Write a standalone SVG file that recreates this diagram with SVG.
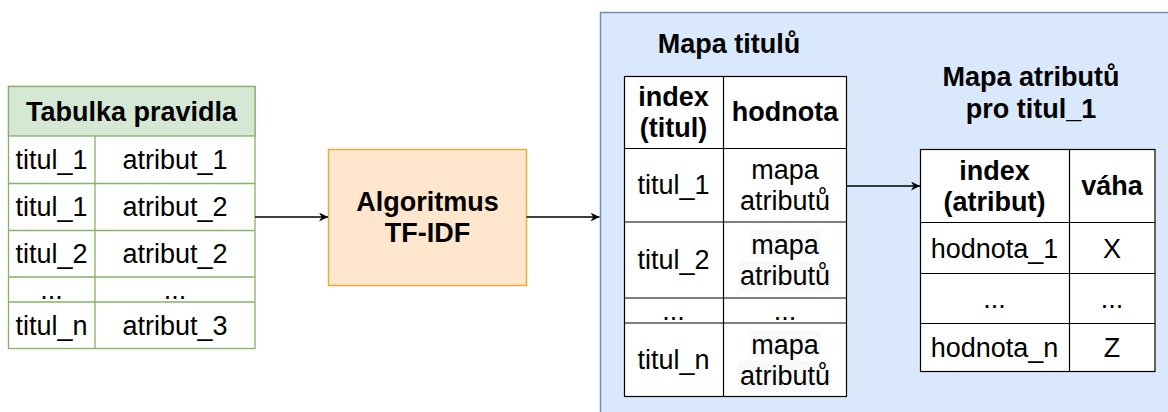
<svg xmlns="http://www.w3.org/2000/svg" width="1168" height="412" viewBox="0 0 1168 412">
<defs>
<style>
text{font-family:"Liberation Sans",Arial,sans-serif;font-size:27px;fill:#000;text-anchor:middle}
.b{font-weight:bold}
.grn{fill:#fff;stroke:#82b366;stroke-width:1.3}
.cell{fill:#fff;stroke:#000;stroke-width:1.2}
.ln{stroke:#000;stroke-width:1.2;fill:none}
.gl{stroke:#82b366;stroke-width:1.3;fill:none}
.hl{fill:#f8f9fa}
.edge{stroke:#000;stroke-width:1.3;fill:none}
</style>
<marker id="ah" viewBox="0 0 10 10" refX="10" refY="5" markerWidth="9" markerHeight="9" markerUnits="userSpaceOnUse" orient="auto">
<path d="M0,0 L10,5 L0,10 L3,5 z" fill="#000"/>
</marker>
</defs>
<rect width="1168" height="412" fill="#fff"/>

<g id="container">
<rect x="600.5" y="12.5" width="620" height="420" fill="#dae8fc" stroke="#6c8ebf" stroke-width="1.5"/>
</g>

<g id="tabulka">
<rect x="8.5" y="86.5" width="246.5" height="262" class="grn"/>
<rect x="8.5" y="86.5" width="246.5" height="49.5" fill="#d5e8d4" stroke="#82b366" stroke-width="1.3"/>
<path class="gl" d="M8.5,183.5H255M8.5,230.5H255M8.5,277H255M8.5,302H255M95,136V348.5"/>
<text x="131.5" y="121" class="b">Tabulka pravidla</text>
<text x="51.5" y="169">titul_1</text><text x="175" y="169">atribut_1</text>
<text x="51.5" y="216">titul_1</text><text x="175" y="216">atribut_2</text>
<text x="51.5" y="263">titul_2</text><text x="175" y="263">atribut_2</text>
<text x="51.5" y="299">...</text><text x="175" y="299">...</text>
<text x="51.5" y="335">titul_n</text><text x="175" y="335">atribut_3</text>
</g>

<g id="algoritmus">
<rect x="328.5" y="149.5" width="198" height="136" fill="#ffe6cc" stroke="#e0b040" stroke-width="1.5"/>
<text x="427.5" y="211" class="b">Algoritmus</text>
<text x="427.5" y="242" class="b">TF-IDF</text>
</g>

<g id="mapa-titulu">
<text x="729" y="53" class="b">Mapa titulů</text>
<rect x="624.5" y="76.5" width="222" height="320" class="cell"/>
<path class="ln" d="M624.5,148.5H846.5M624.5,222H846.5M624.5,298H846.5M624.5,323H846.5M723.5,76.5V396.5"/>
<text x="673.5" y="105.5" class="b">index</text>
<text x="673.5" y="136.5" class="b">(titul)</text>
<text x="785" y="121" class="b">hodnota</text>
<text x="673.5" y="194">titul_1</text>
<text x="785" y="179">mapa</text><text x="785" y="210">atributů</text>
<rect x="750" y="230" width="70" height="26" class="hl"/>
<rect x="738" y="261" width="93" height="31" class="hl"/>
<text x="673.5" y="269">titul_2</text>
<text x="785" y="253.5">mapa</text><text x="785" y="284.5">atributů</text>
<text x="673.5" y="319.5">...</text><text x="785" y="319.5">...</text>
<rect x="750" y="330" width="70" height="26" class="hl"/>
<rect x="738" y="361" width="93" height="31" class="hl"/>
<text x="673.5" y="369">titul_n</text>
<text x="785" y="353.5">mapa</text><text x="785" y="384.5">atributů</text>
</g>

<g id="mapa-atributu">
<text x="1031" y="86" class="b">Mapa atributů</text>
<text x="1031" y="118" class="b">pro titul_1</text>
<rect x="920.5" y="149.5" width="234.5" height="222" class="cell"/>
<path class="ln" d="M920.5,222.5H1155M920.5,273.5H1155M920.5,323.5H1155M1069.5,149.5V371.5"/>
<text x="994.5" y="179.5" class="b">index</text>
<text x="994.5" y="210.5" class="b">(atribut)</text>
<text x="1112" y="195" class="b">váha</text>
<text x="994.5" y="257.5">hodnota_1</text><text x="1112" y="257.5">X</text>
<text x="994.5" y="307.5">...</text><text x="1112" y="307.5">...</text>
<text x="994.5" y="357">hodnota_n</text><text x="1112" y="357">Z</text>
</g>

<g id="connectors">
<path class="edge" d="M255,217H328" marker-end="url(#ah)"/>
<path class="edge" d="M526.5,217H599.5" marker-end="url(#ah)"/>
<path class="edge" d="M846.5,186H920" marker-end="url(#ah)"/>
</g>
</svg>
